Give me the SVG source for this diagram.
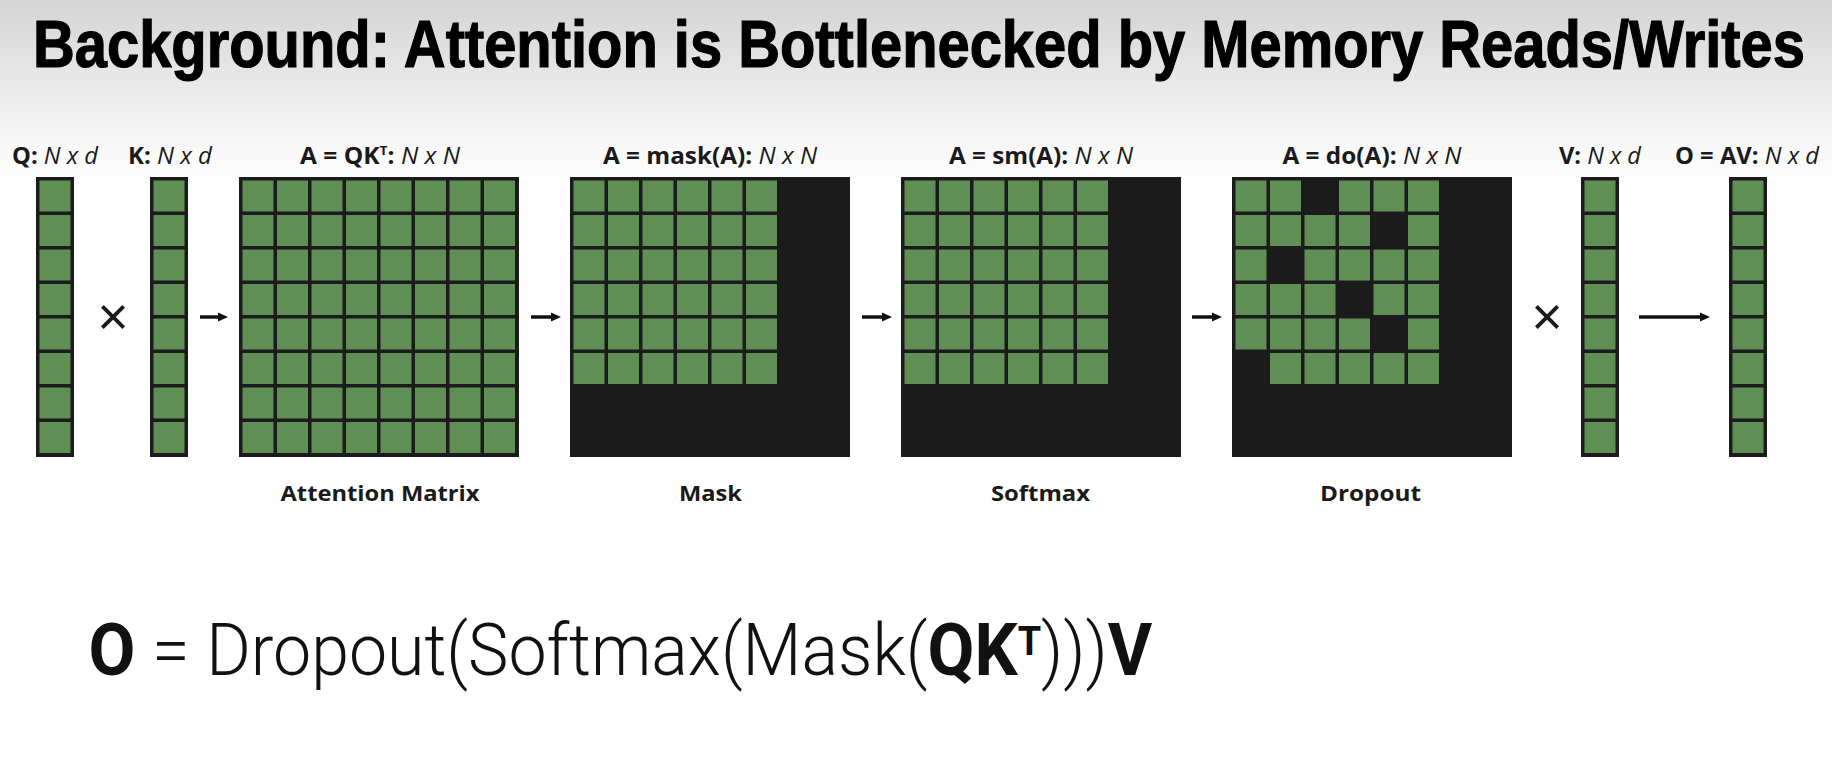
<svg xmlns="http://www.w3.org/2000/svg" width="1832" height="779" viewBox="0 0 1832 779">
<style>
.g{fill:#5f8f55}
.k{fill:#1b1b1b}
.lbl{font-family:"Open Sans","Liberation Sans",sans-serif;font-size:23px;fill:#1a1a1a}
.b{font-weight:700}
.i{font-style:italic;font-weight:400}
.bot{font-family:"Open Sans","Liberation Sans",sans-serif;font-size:22px;font-weight:700;fill:#1a1a1a}
.arr{stroke:#111;stroke-width:3.5;fill:none}
.times{font-family:"Liberation Sans",sans-serif;font-size:54px;fill:#1a1a1a}
</style>
<defs>
<linearGradient id="bg" x1="0" y1="0" x2="0" y2="779" gradientUnits="userSpaceOnUse">
<stop offset="0" stop-color="#d4d4d4"/>
<stop offset="0.17" stop-color="#f5f5f5"/>
<stop offset="0.24" stop-color="#ffffff"/>
<stop offset="1" stop-color="#ffffff"/>
</linearGradient>
<marker id="ah" markerUnits="userSpaceOnUse" markerWidth="11" markerHeight="10" refX="4" refY="5" orient="auto">
<path d="M0,0.5 L10,5 L0,9.5 z" fill="#111"/>
</marker>
<rect id="cell" width="31" height="31" class="g"/>
<g id="r8">
<use href="#cell" x="3.5"/><use href="#cell" x="38"/><use href="#cell" x="72.5"/><use href="#cell" x="107"/><use href="#cell" x="141.5"/><use href="#cell" x="176"/><use href="#cell" x="210.5"/><use href="#cell" x="245"/>
</g>
<g id="r6">
<use href="#cell" x="3.5"/><use href="#cell" x="38"/><use href="#cell" x="72.5"/><use href="#cell" x="107"/><use href="#cell" x="141.5"/><use href="#cell" x="176"/>
</g>
<g id="c8">
<rect class="k" width="38" height="280"/>
<use href="#cell" x="3.5" y="3.5"/><use href="#cell" x="3.5" y="38"/><use href="#cell" x="3.5" y="72.5"/><use href="#cell" x="3.5" y="107"/><use href="#cell" x="3.5" y="141.5"/><use href="#cell" x="3.5" y="176"/><use href="#cell" x="3.5" y="210.5"/><use href="#cell" x="3.5" y="245"/>
</g>
</defs>
<rect width="1832" height="779" fill="url(#bg)"/>
<text id="title" transform="translate(33,67) scale(0.864,1)" x="0" y="0" font-family="Liberation Sans,Arial,sans-serif" font-weight="700" font-size="67" fill="#000" stroke="#000" stroke-width="1.2">Background: Attention is Bottlenecked by Memory Reads/Writes</text>

<g id="Q">
<text class="lbl" x="55" y="164" text-anchor="middle" textLength="86" lengthAdjust="spacingAndGlyphs"><tspan class="b">Q:</tspan><tspan class="i"> N x d</tspan></text>
<use href="#c8" x="36" y="177"/>
</g>
<g id="times1"><text class="times" x="113" y="335" text-anchor="middle">×</text></g>
<g id="K">
<text class="lbl" x="170" y="164" text-anchor="middle" textLength="84" lengthAdjust="spacingAndGlyphs"><tspan class="b">K:</tspan><tspan class="i"> N x d</tspan></text>
<use href="#c8" x="150" y="177"/>
</g>
<g id="attention">
<text class="lbl" x="380" y="164" text-anchor="middle" textLength="160" lengthAdjust="spacingAndGlyphs"><tspan class="b">A = QK</tspan><tspan class="b" font-size="13" dy="-9">T</tspan><tspan class="b" dy="9">:</tspan><tspan class="i"> N x N</tspan></text>
<g transform="translate(239,177)">
<rect class="k" width="280" height="280"/>
<use href="#r8" y="3.5"/><use href="#r8" y="38"/><use href="#r8" y="72.5"/><use href="#r8" y="107"/><use href="#r8" y="141.5"/><use href="#r8" y="176"/><use href="#r8" y="210.5"/><use href="#r8" y="245"/>
</g>
<text class="bot" x="380" y="501" text-anchor="middle" textLength="199" lengthAdjust="spacingAndGlyphs">Attention Matrix</text>
</g>
<g id="mask">
<text class="lbl" x="710" y="164" text-anchor="middle" textLength="214" lengthAdjust="spacingAndGlyphs"><tspan class="b">A = mask(A):</tspan><tspan class="i"> N x N</tspan></text>
<g transform="translate(570,177)">
<rect class="k" width="280" height="280"/>
<use href="#r6" y="3.5"/><use href="#r6" y="38"/><use href="#r6" y="72.5"/><use href="#r6" y="107"/><use href="#r6" y="141.5"/><use href="#r6" y="176"/>
</g>
<text class="bot" x="710.5" y="501" text-anchor="middle" textLength="63" lengthAdjust="spacingAndGlyphs">Mask</text>
</g>
<g id="softmax">
<text class="lbl" x="1041" y="164" text-anchor="middle" textLength="184" lengthAdjust="spacingAndGlyphs"><tspan class="b">A = sm(A):</tspan><tspan class="i"> N x N</tspan></text>
<g transform="translate(901,177)">
<rect class="k" width="280" height="280"/>
<use href="#r6" y="3.5"/><use href="#r6" y="38"/><use href="#r6" y="72.5"/><use href="#r6" y="107"/><use href="#r6" y="141.5"/><use href="#r6" y="176"/>
</g>
<text class="bot" x="1040.5" y="501" text-anchor="middle" textLength="99" lengthAdjust="spacingAndGlyphs">Softmax</text>
</g>
<g id="dropout">
<text class="lbl" x="1372" y="164" text-anchor="middle" textLength="179" lengthAdjust="spacingAndGlyphs"><tspan class="b">A = do(A):</tspan><tspan class="i"> N x N</tspan></text>
<g transform="translate(1232,177)">
<rect class="k" width="280" height="280"/>
<use href="#cell" x="3.5" y="3.5"/><use href="#cell" x="38" y="3.5"/><use href="#cell" x="107" y="3.5"/><use href="#cell" x="141.5" y="3.5"/><use href="#cell" x="176" y="3.5"/>
<use href="#cell" x="3.5" y="38"/><use href="#cell" x="38" y="38"/><use href="#cell" x="72.5" y="38"/><use href="#cell" x="107" y="38"/><use href="#cell" x="176" y="38"/>
<use href="#cell" x="3.5" y="72.5"/><use href="#cell" x="72.5" y="72.5"/><use href="#cell" x="107" y="72.5"/><use href="#cell" x="141.5" y="72.5"/><use href="#cell" x="176" y="72.5"/>
<use href="#cell" x="3.5" y="107"/><use href="#cell" x="38" y="107"/><use href="#cell" x="72.5" y="107"/><use href="#cell" x="141.5" y="107"/><use href="#cell" x="176" y="107"/>
<use href="#cell" x="3.5" y="141.5"/><use href="#cell" x="38" y="141.5"/><use href="#cell" x="72.5" y="141.5"/><use href="#cell" x="107" y="141.5"/><use href="#cell" x="176" y="141.5"/>
<use href="#cell" x="38" y="176"/><use href="#cell" x="72.5" y="176"/><use href="#cell" x="107" y="176"/><use href="#cell" x="141.5" y="176"/><use href="#cell" x="176" y="176"/>
</g>
<text class="bot" x="1370.5" y="501" text-anchor="middle" textLength="101" lengthAdjust="spacingAndGlyphs">Dropout</text>
</g>
<g id="times2"><text class="times" x="1547" y="335" text-anchor="middle">×</text></g>
<g id="V">
<text class="lbl" x="1600" y="164" text-anchor="middle" textLength="82" lengthAdjust="spacingAndGlyphs"><tspan class="b">V:</tspan><tspan class="i"> N x d</tspan></text>
<use href="#c8" x="1581" y="177"/>
</g>
<g id="O">
<text class="lbl" x="1747" y="164" text-anchor="middle" textLength="144" lengthAdjust="spacingAndGlyphs"><tspan class="b">O = AV:</tspan><tspan class="i"> N x d</tspan></text>
<use href="#c8" x="1729" y="177"/>
</g>

<g id="connectors">
<line class="arr" x1="200" y1="317" x2="222" y2="317" marker-end="url(#ah)"/>
<line class="arr" x1="531" y1="317" x2="555" y2="317" marker-end="url(#ah)"/>
<line class="arr" x1="862" y1="317" x2="886" y2="317" marker-end="url(#ah)"/>
<line class="arr" x1="1192" y1="317" x2="1216" y2="317" marker-end="url(#ah)"/>
<line class="arr" x1="1639" y1="317" x2="1704" y2="317" marker-end="url(#ah)"/>
</g>

<g id="formula">
<text transform="translate(88.6,675) scale(0.945,1)" x="0" y="0" font-family="Roboto,Liberation Sans,Arial,sans-serif" font-size="72" fill="#111" font-weight="300"><tspan font-weight="700">O</tspan> = Dropout(Softmax(Mask(<tspan font-weight="700">QK</tspan><tspan font-weight="700" font-size="40" dy="-20">T</tspan><tspan dy="20">)))</tspan><tspan font-weight="700">V</tspan></text>
</g>
</svg>
